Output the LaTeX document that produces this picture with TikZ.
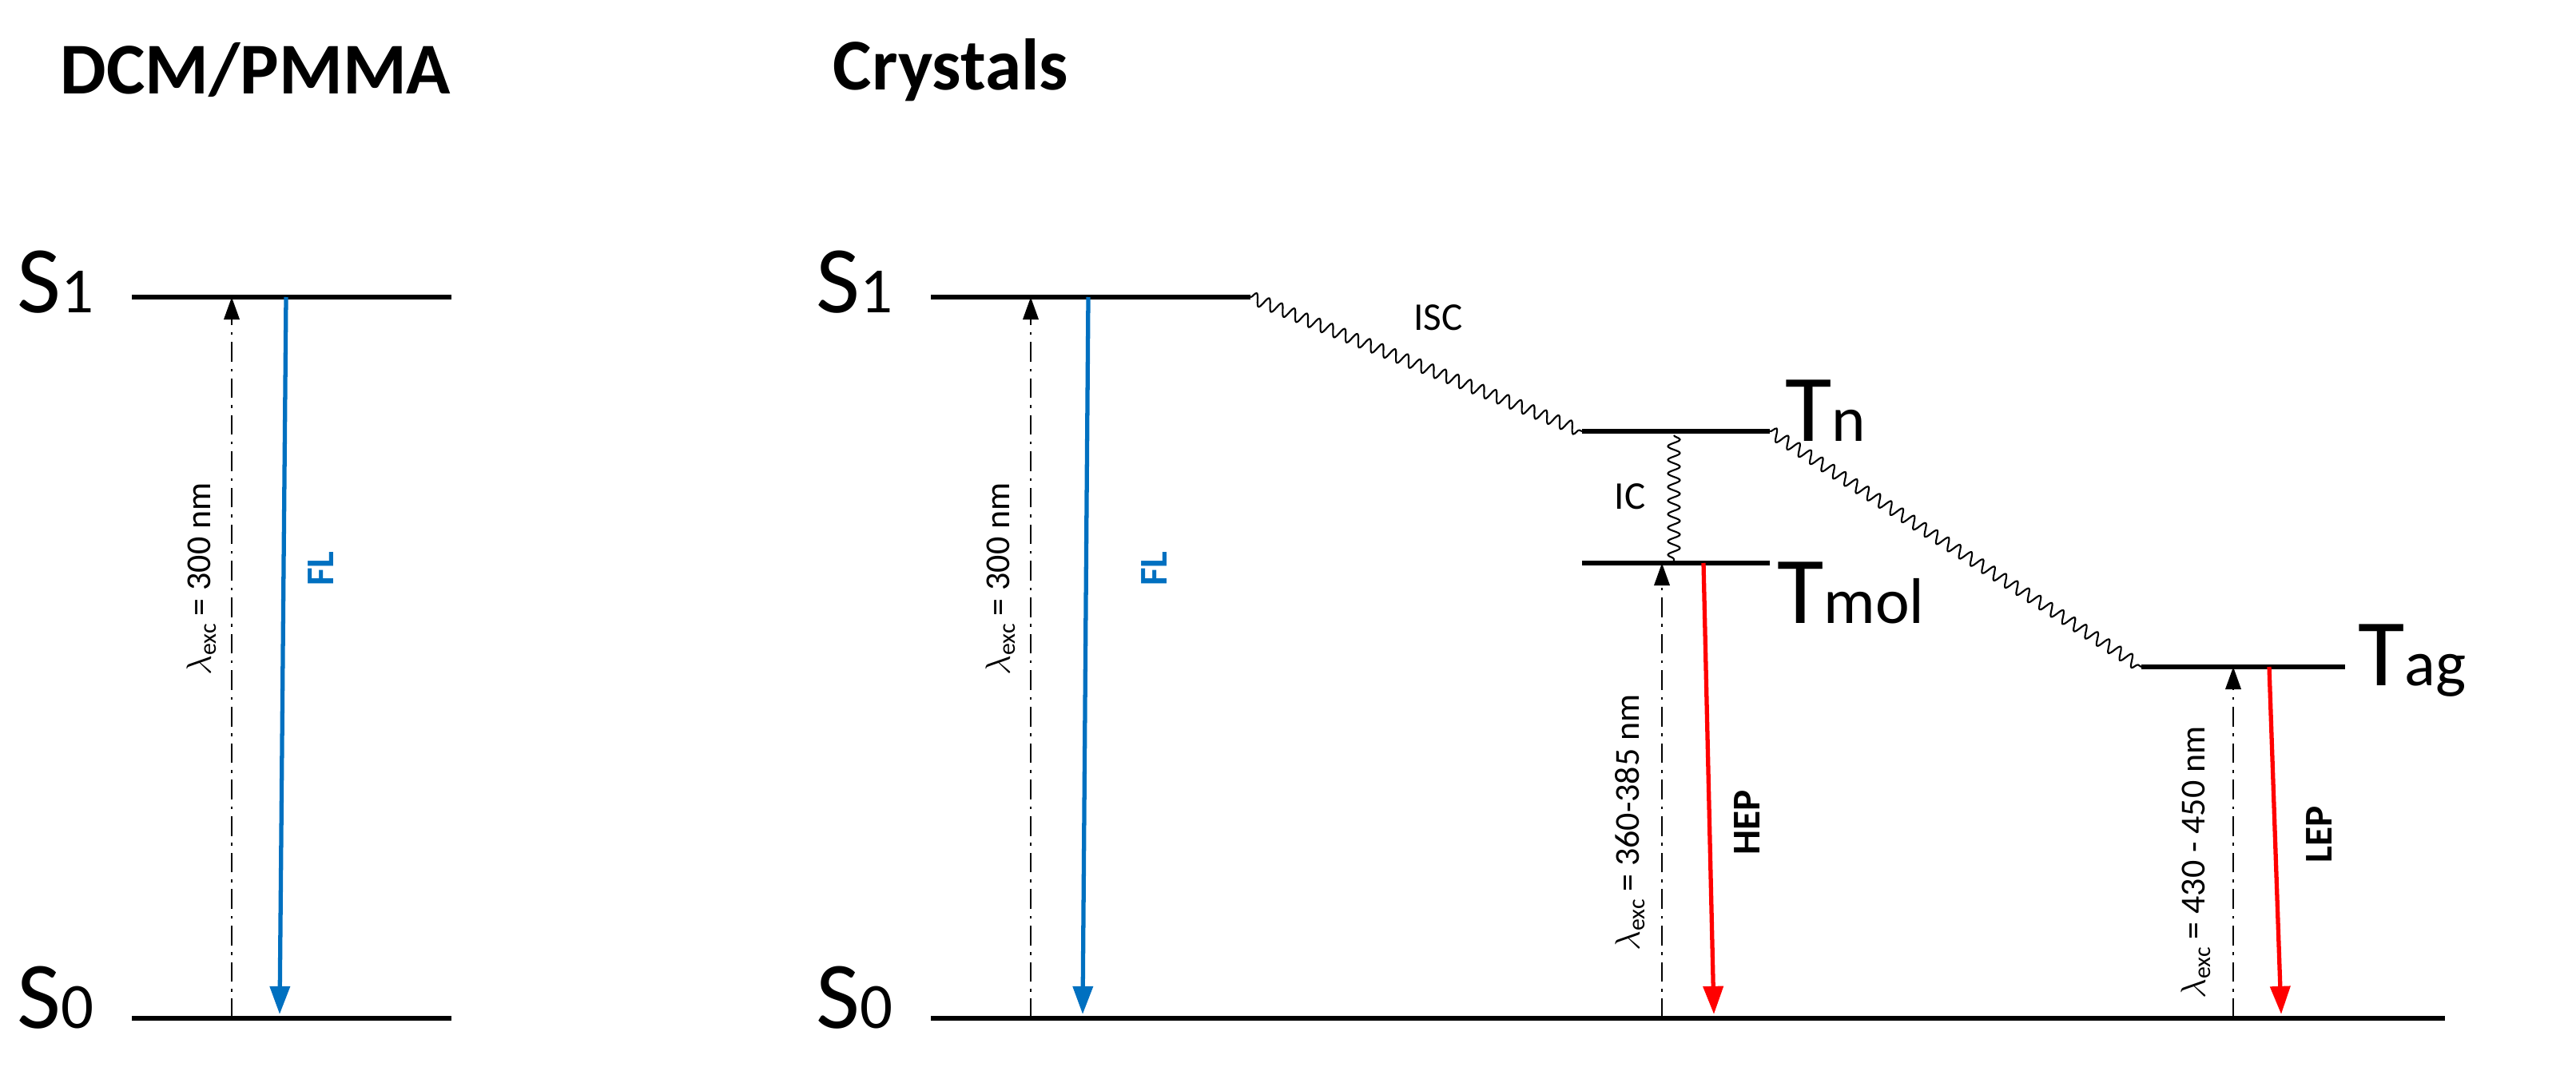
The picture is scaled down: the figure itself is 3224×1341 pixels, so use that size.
\documentclass[tikz,border=0pt]{standalone}
\usepackage{fontspec}
\setmainfont{Carlito}
\usetikzlibrary{decorations.pathmorphing,arrows.meta}
\begin{document}
\begin{tikzpicture}[x=0.02cm,y=-0.02cm,
 level/.style={line width=3.4pt},
 exc/.style={line width=1.6pt,dash pattern=on 14pt off 5pt on 2pt off 5pt,-{Triangle[length=16pt,width=11pt]}},
 emis/.style={line width=3pt,-{Triangle[length=20pt,width=14pt]}},
 wav/.style={line width=1.2pt,decorate,decoration={snake,segment length=0.34cm,amplitude=0.15cm}},
 ttl/.style={font=\fontsize{52}{56}\selectfont\bfseries},
 lev/.style={font=\fontsize{68}{72}\selectfont,anchor=base west},
 sm/.style={font=\fontsize{25}{28}\selectfont,rotate=90},
 bl/.style={font=\fontsize{28}{32}\selectfont\bfseries,rotate=90}]
\useasboundingbox (0,0) rectangle (3224,1341);
\newcommand{\subs}[1]{{\fontsize{46}{50}\selectfont #1}}
\newcommand{\lamexc}{$\lambda$\raisebox{-0.3ex}{\fontsize{17}{18}\selectfont exc}}
\node[ttl] (t1) at (320,88) {DCM/PMMA};
\node[ttl] (t2) at (1190,88) {Crystals};
% left
\draw[level] (165,372) coordinate (ls1a) -- (565,372) coordinate (ls1b);
\draw[level] (165,1275) -- (565,1275);
\node[lev] (ls1) at (15,392) {S\subs{1}};
\node[lev] (ls0) at (15,1287) {S\subs{0}};
\coordinate (la0) at (290,1275); \coordinate (la1) at (290,372);
\draw[exc] (la0) -- (la1);
\coordinate (lb0) at (358,372); \coordinate (lb1) at (350,1270);
\draw[emis,color={rgb,255:red,0;green,112;blue,192}] (lb0) -- (lb1);
\node[sm] (ll) at (252,725) {\lamexc{} = 300 nm};
\node[bl,text={rgb,255:red,0;green,112;blue,192}] (lf) at (402,712) {FL};
% right
\draw[level] (1165,372) -- (1565,372) coordinate (rs1);
\draw[level] (1165,1275) -- (3060,1275);
\node[lev] (rs1l) at (1015,392) {S\subs{1}};
\node[lev] (rs0l) at (1015,1287) {S\subs{0}};
\coordinate (ra0) at (1290,1275); \coordinate (ra1) at (1290,372);
\draw[exc] (ra0) -- (ra1);
\coordinate (rb0) at (1362,372); \coordinate (rb1) at (1355,1270);
\draw[emis,color={rgb,255:red,0;green,112;blue,192}] (rb0) -- (rb1);
\node[sm] (rl) at (1252,725) {\lamexc{} = 300 nm};
\node[bl,text={rgb,255:red,0;green,112;blue,192}] (rf) at (1445,712) {FL};
% triplets
\draw[level] (1980,540) coordinate (tna) -- (2215,540) coordinate (tnb);
\draw[level] (1980,705) -- (2215,705);
\draw[level] (2680,835) coordinate (taga) -- (2935,835);
\node[lev] (tnl) at (2228,552) {T\subs{n}};
\node[lev] (tml) at (2218,780) {T\subs{mol}};
\node[lev] (tgl) at (2945,858) {T\subs{ag}};
\draw[wav] (rs1) -- (tna);
\draw[wav] (tnb) -- (taga);
\coordinate (ic0) at (2095,545); \coordinate (ic1) at (2095,702);
\draw[wav] (ic0) -- (ic1);
\node[font=\fontsize{28}{32}\selectfont] (isc) at (1800,398) {ISC};
\node[font=\fontsize{28}{32}\selectfont] (icl) at (2040,622) {IC};
\coordinate (ha0) at (2080,1275); \coordinate (ha1) at (2080,705);
\draw[exc] (ha0) -- (ha1);
\coordinate (hb0) at (2132,705); \coordinate (hb1) at (2145,1270);
\draw[emis,red] (hb0) -- (hb1);
\node[sm] (hl) at (2040,1030) {\lamexc{} = 360-385 nm};
\node[bl] (hep) at (2187,1030) {HEP};
\coordinate (ga0) at (2795,1275); \coordinate (ga1) at (2795,835);
\draw[exc] (ga0) -- (ga1);
\coordinate (gb0) at (2840,835); \coordinate (gb1) at (2855,1270);
\draw[emis,red] (gb0) -- (gb1);
\node[sm] (gl) at (2748,1080) {\lamexc{} = 430 - 450 nm};
\node[bl] (lep) at (2903,1045) {LEP};
\end{tikzpicture}
\end{document}
